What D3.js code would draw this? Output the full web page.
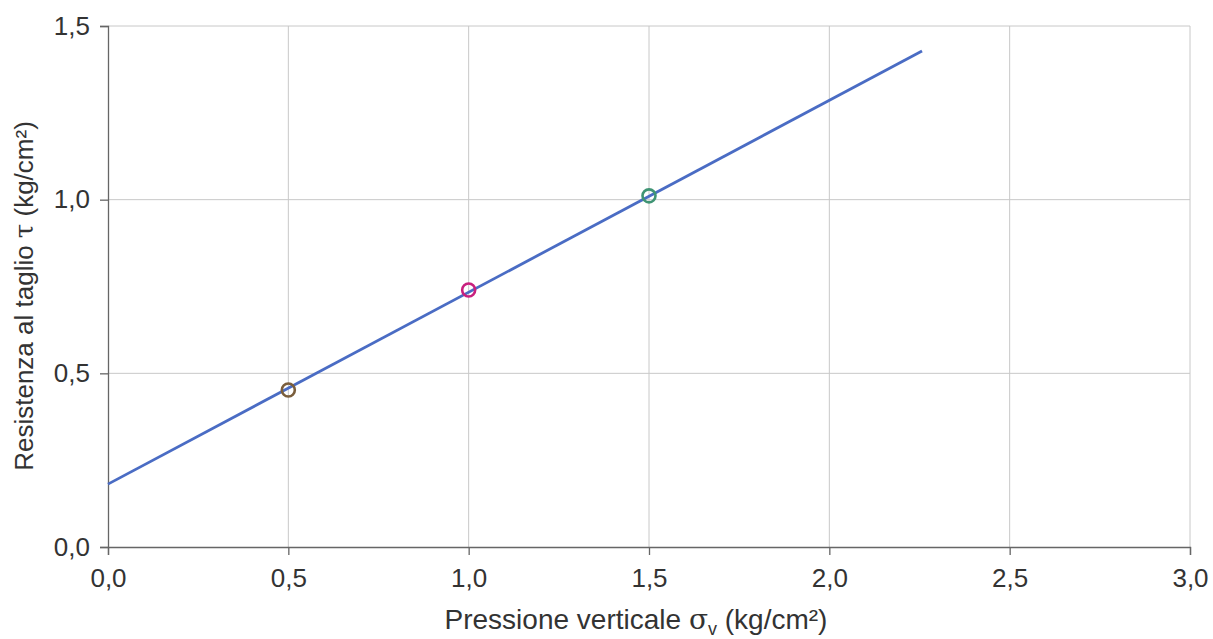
<!DOCTYPE html>
<html>
<head>
<meta charset="utf-8">
<script src="https://cdn.jsdelivr.net/npm/d3@7"></script>
<style>
  body { margin: 0; background: #fff; }
  text { font-family: "Liberation Sans", Arial, sans-serif; fill: #333; }
</style>
</head>
<body>
<div id="container"></div>
<script>
// measured points (sigma_v, tau)
let sigmaV = [0.5, 1.0, 1.5];
let tau = [0.452, 0.740, 1.011];
let pointColors = ['#7a5e3c', '#c8207e', '#3f9474'];
// fitted line endpoints
let lineX = [0, 2.257];
let lineY = [0.181, 1.428];
let xTicks = [0, 0.5, 1.0, 1.5, 2.0, 2.5, 3.0];
let yTicks = [0, 0.5, 1.0, 1.5];

const width = 1213, height = 639;
const m = { left: 108, right: 23, top: 26, bottom: 92 };
const svg = d3.select('#container').append('svg').attr('width', width).attr('height', height);

const x = d3.scaleLinear().domain([0, 3]).range([m.left, width - m.right]);
const y = d3.scaleLinear().domain([0, 1.5]).range([height - m.bottom, m.top]);
const fmt = d => d3.format('.1f')(d).replace('.', ',');

// grid
svg.append('g').selectAll('line').data(xTicks.slice(1)).enter().append('line')
    .attr('x1', d => x(d)).attr('x2', d => x(d))
    .attr('y1', y(0)).attr('y2', y(1.5))
    .style('stroke', '#c8c8c8').style('stroke-width', 1);
svg.append('g').selectAll('line').data(yTicks.slice(1)).enter().append('line')
    .attr('x1', x(0)).attr('x2', x(3))
    .attr('y1', d => y(d)).attr('y2', d => y(d))
    .style('stroke', '#c8c8c8').style('stroke-width', 1);

// axes
let xAxis = svg.append('g').attr('transform', `translate(0, ${y(0)})`)
    .call(d3.axisBottom(x).tickValues(xTicks).tickFormat(fmt).tickSize(8).tickPadding(14));
let yAxis = svg.append('g').attr('transform', `translate(${x(0)}, 0)`)
    .call(d3.axisLeft(y).tickValues(yTicks).tickFormat(fmt).tickSize(8).tickPadding(10));
[xAxis, yAxis].forEach(a => {
    a.select('.domain').style('stroke', '#666').style('stroke-width', 1.3);
    a.selectAll('.tick line').style('stroke', '#666').style('stroke-width', 1.3);
    a.selectAll('.tick text').style('font-size', '26px').style('fill', '#333')
        .style('font-family', '"Liberation Sans", Arial, sans-serif');
});

// fitted line
svg.append('line')
    .attr('x1', x(lineX[0])).attr('y1', y(lineY[0]))
    .attr('x2', x(lineX[1])).attr('y2', y(lineY[1]))
    .style('stroke', '#4a6cc4').style('stroke-width', 2.8);

// points
svg.append('g').selectAll('circle').data(sigmaV).enter().append('circle')
    .attr('cx', d => x(d)).attr('cy', (d, i) => y(tau[i]))
    .attr('r', 6.5)
    .attr('fill', 'none')
    .style('stroke', (d, i) => pointColors[i]).style('stroke-width', 2.6);

// axis titles
let xt = svg.append('text').attr('x', 636).attr('y', 629)
    .attr('text-anchor', 'middle').style('font-size', '28px');
xt.append('tspan').text('Pressione verticale ');
xt.append('tspan').text('σ').style('font-family', '"DejaVu Serif", serif');
xt.append('tspan').text('v').attr('dy', 6).style('font-size', '18px');
xt.append('tspan').text(' (kg/cm²)').attr('dy', -6);

let yt = svg.append('text').attr('transform', `translate(33, 296) rotate(-90)`)
    .attr('text-anchor', 'middle').style('font-size', '26px');
yt.append('tspan').text('Resistenza al taglio ');
yt.append('tspan').text('τ').style('font-family', '"DejaVu Serif", serif');
yt.append('tspan').text(' (kg/cm²)');
</script>
</body>
</html>
